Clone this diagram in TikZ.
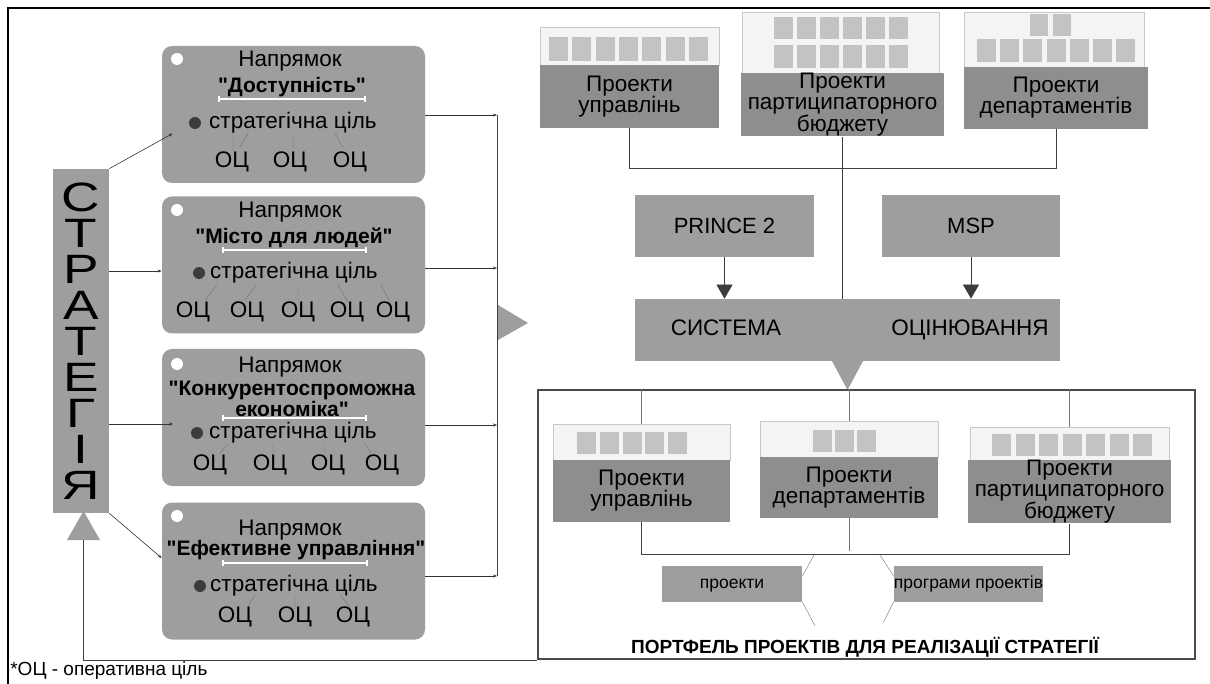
\documentclass[tikz,border=0pt]{standalone}
\usepackage{fontspec}
\setmainfont{Liberation Sans}[Ligatures=TeXOff]
\newfontfamily\widefont[FakeStretch=1.3]{Liberation Sans}
\usetikzlibrary{arrows.meta, positioning, calc}
\definecolor{BoxGray}{HTML}{9E9E9E}
\definecolor{ProjGray}{HTML}{8E8E8E}
\definecolor{PaleGray}{HTML}{F4F4F4}
\definecolor{EdgeGray}{HTML}{C8C8C8}
\definecolor{TileGray}{HTML}{C3C3C3}
\definecolor{DotGray}{HTML}{3C3C3C}
\definecolor{FrameGray}{HTML}{4A4A4A}
\newcommand{\fsz}[2]{\fontsize{#1}{#2}\selectfont}

\begin{document}
\begin{tikzpicture}[x=1pt, y=-1pt, >=Stealth, line width=0.7pt,
    dirbox/.style={fill=BoxGray, rounded corners=10pt, minimum width=263pt, minimum height=137pt, inner sep=0pt},
    txt/.style={inner sep=0pt, font=\fsz{22.5}{22}, text height=16pt, text depth=5pt},
    ttl/.style={inner sep=0pt, font=\bfseries\fsz{21}{17}, align=center},
    pale/.style={fill=PaleGray, draw=EdgeGray, line width=0.6pt, inner sep=0pt},
    proj/.style={fill=ProjGray, inner sep=0pt, align=center, font=\fsz{22.5}{21}},
    sqbox/.style={fill=BoxGray, inner sep=0pt, font=\fsz{22}{22}},
    smallbox/.style={sqbox, minimum height=36pt, font=\fsz{17.5}{17}, text height=12pt, text depth=3.5pt},
    arr/.style={-{Stealth[length=4pt, width=3pt]}, line width=0.6pt, black!80},
    tip/.style={-{Triangle[length=14pt, width=16pt]}, DotGray, line width=0.6pt},
    link/.style={line width=0.8pt, black!75},
    thinl/.style={line width=0.4pt, black!55},
    bar/.style={white, line width=1.6pt, {Bar[width=6pt]}-{Bar[width=6pt]}},
    ]
    \useasboundingbox (0,0) rectangle (1210,684);
    % frame
    \draw[line width=2pt] (8,684) -- (8,8) -- (1210,8);

    % strategy column
    \node[fill=BoxGray, minimum width=56pt, minimum height=344pt, inner sep=0pt, align=center,
          font=\widefont\fsz{41}{36}] (strat) at (81,341) {С\\Т\\Р\\А\\Т\\Е\\Г\\І\\Я};
    \coordinate (fb) at (83.5,540);
    \fill[BoxGray] (67,540) -- (100,540) -- (83.5,511) -- cycle;

    % directions
    \node[dirbox] (dir1) at (293.5,114.5) {};
    \node[dirbox] (dir2) at (293.5,265) {};
    \node[dirbox] (dir3) at (293.5,417.5) {};
    \node[dirbox] (dir4) at (293.5,571) {};

    % direction 1
    \fill[white] (177,59) circle (6pt);
    \node[txt] (n1) at (290,61) {Напрямок};
    \node[ttl] (t1) at (292,87) {"Доступність"};
    \draw[bar] (218,99) -- (366,99);
    \fill[DotGray] (195,123) circle (6pt);
    \node[txt] (g1) at (293,123) {стратегічна ціль};
    \foreach \x in {232,290,350} \node[txt] (a\x) at (\x,162) {ОЦ};
    \draw[thinl] (233,133) -- (233,150) (248,133) -- (240,147) (293,133) -- (293,150) (335,133) -- (343,148);

    % direction 2
    \fill[white] (177,210) circle (6pt);
    \node[txt] (n2) at (290,212) {Напрямок};
    \node[ttl] (t2) at (294,238) {"Місто для людей"};
    \draw[bar] (222,250) -- (367,250);
    \fill[DotGray] (199,273) circle (6pt);
    \node[txt] (g2) at (294,273) {стратегічна ціль};
    \foreach \x in {193,247,298,347,393} \node[txt] (b\x) at (\x,312) {ОЦ};
    \draw[thinl] (217,285) -- (205,300) (256,285) -- (245,300) (298,285) -- (298,302)
        (338,285) -- (348,302) (381,285) -- (390,302);

    % direction 3
    \fill[white] (177,364) circle (6pt);
    \node[txt] (n3) at (290,367) {Напрямок};
    \node[ttl] (t3) at (292,399) {"Конкурентоспроможна\\економіка"};
    \draw[bar] (222,418) -- (367,418);
    \fill[DotGray] (197,433) circle (6pt);
    \node[txt] (g3) at (293,433) {стратегічна ціль};
    \foreach \x in {210,270,328,382} \node[txt] (c\x) at (\x,465) {ОЦ};
    \draw[thinl] (228,444) -- (220,453) (273,444) -- (273,455) (325,444) -- (325,455) (365,444) -- (372,455);

    % direction 4
    \fill[white] (177,516) circle (6pt);
    \node[txt] (n4) at (290,530) {Напрямок};
    \node[ttl] (t4) at (296,550) {"Ефективне управління"};
    \draw[bar] (222,563) -- (368,563);
    \fill[DotGray] (200,586) circle (6pt);
    \node[txt] (g4) at (294,586) {стратегічна ціль};
    \foreach \x in {235,295,353} \node[txt] (d\x) at (\x,617) {ОЦ};
    \draw[thinl] (255,595) -- (248,606) (295,595) -- (295,607) (340,595) -- (350,607);

    % strategy -> directions
    \coordinate (in3) at (173,424);
    \draw[arr] (strat.north east) -- ([xshift=11pt, yshift=-19pt]dir1.west);
    \draw[arr] (strat.east |- 0,271) -- (dir2.west |- 0,271);
    \draw[arr] (strat.east |- in3) -- (in3);
    \draw[arr] (strat.south east) -- ([yshift=13pt]dir4.west);

    % directions -> bus
    \coordinate (busT) at (497,115);
    \coordinate (busB) at (497,576);
    \draw[arr] (dir1.east |- busT) -- (busT);
    \draw[arr] (dir2.east |- 0,268) -- (497,268);
    \draw[arr] (dir3.east |- 0,425) -- (497,425);
    \draw[arr] (dir4.east |- busB) -- (busB);
    \draw[link] (busT) -- (busB);
    \fill[BoxGray] (498,305) -- (528,323) -- (498,340) -- cycle;

    % top project groups
    \node[pale, minimum width=179pt, minimum height=38pt] (tA) at (629.5,46) {};
    \foreach \i in {0,...,6} \fill[TileGray] (549+\i*23.3,37) rectangle ++(19,24);
    \node[proj, minimum width=179pt, minimum height=63pt] (pA) at (629.5,96.5) {Проекти\\управлінь};

    \node[pale, minimum width=197pt, minimum height=61pt] (tB) at (840.5,42.5) {};
    \foreach \i in {0,...,5} {
        \fill[TileGray] (774+\i*23,17) rectangle ++(19,22);
        \fill[TileGray] (774+\i*23,45) rectangle ++(19,23);
    }
    \node[proj, minimum width=203pt, minimum height=63pt] (pB) at (842.5,104.5) {Проекти\\партиципаторного\\бюджету};

    \node[pale, minimum width=180pt, minimum height=55pt] (tC) at (1054,39.5) {};
    \foreach \i in {0,1} \fill[TileGray] (1030+\i*23,14) rectangle ++(18,22);
    \foreach \i in {0,...,6} \fill[TileGray] (977+\i*23.2,39) rectangle ++(19,23);
    \node[proj, minimum width=184pt, minimum height=62pt] (pC) at (1056,98) {Проекти\\департаментів};

    \draw[link] (pA.south) -- (pA.south |- 0,168) -- (pC.south |- 0,168) -- (pC.south);

    % evaluation system
    \node[sqbox, minimum width=179pt, minimum height=62pt] (prince) at (724.5,226) {PRINCE 2};
    \node[sqbox, minimum width=178pt, minimum height=62pt] (msp) at (971,226) {MSP};
    \node[sqbox, minimum width=425pt, minimum height=62pt] (sys) at (847.5,330) {};
    \node[txt] (sysA) at (726,330) {СИСТЕМА};
    \node[txt] (sysB) at (970,330) {ОЦІНЮВАННЯ};
    \draw[link] (pB.south) -- (pB.south |- sys.north);
    \draw[tip] (prince.south) -- (prince.south |- sys.north);
    \draw[tip] (msp.south) -- (msp.south |- sys.north);
    \fill[BoxGray] (832,361) -- (863,361) -- (847.5,390) -- cycle;

    % portfolio
    \node[draw=FrameGray, line width=2pt, minimum width=657pt, minimum height=269pt, inner sep=0pt] (port) at (866.5,524.5) {};

    \node[pale, minimum width=177pt, minimum height=36pt] (lD) at (641.5,442) {};
    \foreach \i in {0,...,4} \fill[TileGray] (577+\i*22.75,432) rectangle ++(19,22);
    \node[proj, minimum width=177pt, minimum height=62pt] (dD) at (641.5,491) {Проекти\\управлінь};

    \node[pale, minimum width=178pt, minimum height=36pt] (lE) at (849,439) {};
    \foreach \i in {0,1,2} \fill[TileGray] (813+\i*22,430) rectangle ++(19,22);
    \node[proj, minimum width=178pt, minimum height=61pt] (dE) at (849,487.5) {Проекти\\департаментів};

    \node[pale, minimum width=199pt, minimum height=33pt] (lF) at (1069.5,443.5) {};
    \foreach \i in {0,...,6} \fill[TileGray] (992+\i*23.5,434) rectangle ++(19,22);
    \node[proj, minimum width=203pt, minimum height=63pt] (dF) at (1069.5,491.5) {Проекти\\партиципаторного\\бюджету};

    \draw[thinl] (lD.north |- port.north) -- (lD.north);
    \draw[thinl] (lE.north |- port.north) -- (lE.north);
    \draw[thinl] (lF.north |- port.north) -- (lF.north);
    \draw[link] (dD.south) -- (dD.south |- 0,554) -- (dF.south |- 0,554) -- (dF.south);
    \draw[thinl] (dE.south) -- (dE.south |- 0,551);

    \node[smallbox, minimum width=140pt] (pr) at (732,584) {проекти};
    \node[smallbox, minimum width=149pt] (prog) at (968.5,584) {програми проектів};
    \draw[thinl] (814,555) -- ([yshift=8pt]pr.east) ([yshift=-18pt]pr.east) -- (815,626);
    \draw[thinl] (880,555) -- ([yshift=8pt]prog.west) ([yshift=-18pt]prog.west) -- (883,623);
    \node[inner sep=0pt, font=\bfseries\fsz{19}{19}] (ptitle) at (865,647) {ПОРТФЕЛЬ ПРОЕКТІВ ДЛЯ РЕАЛІЗАЦІЇ СТРАТЕГІЇ};

    % feedback and note
    \draw[link] (fb) |- (port.south west);
    \node[anchor=west, inner sep=0pt, font=\fsz{19}{19}] (note) at (10,671) {*ОЦ - оперативна ціль};
\end{tikzpicture}
\end{document}
